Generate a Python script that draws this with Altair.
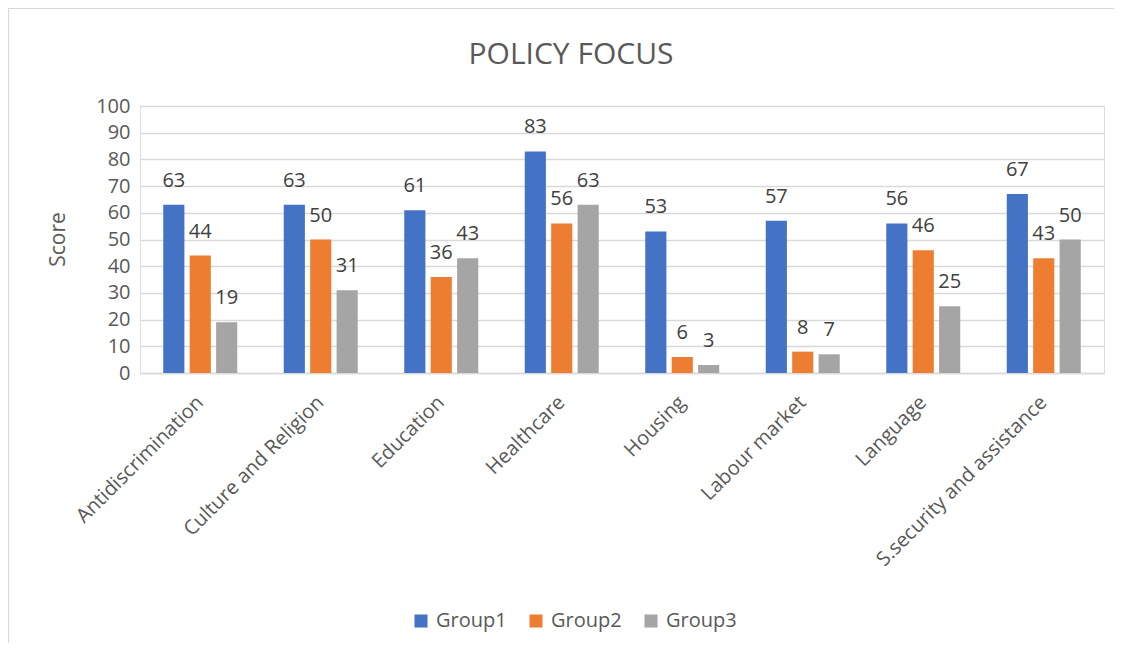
import altair as alt
import pandas as pd

categories = ["Antidiscrimination", "Culture and Religion", "Education", "Healthcare",
              "Housing", "Labour market", "Language", "S.security and assistance"]
groups = ["Group1", "Group2", "Group3"]
group1 = [63, 63, 61, 83, 53, 57, 56, 67]
group2 = [44, 50, 36, 56, 6, 8, 46, 43]
group3 = [19, 31, 43, 63, 3, 7, 25, 50]
colors = ["#4472C4", "#ED7D31", "#A5A5A5"]
y_ticks = list(range(0, 101, 10))

rows = []
for g, vals in zip(groups, [group1, group2, group3]):
    for c, v in zip(categories, vals):
        rows.append({"category": c, "group": g, "score": v})
df = pd.DataFrame(rows)

FONT = "Open Sans"
TXT = "#595959"

x_enc = alt.X("category:N", sort=categories,
              scale=alt.Scale(paddingInner=0.386, paddingOuter=0.193),
              axis=alt.Axis(title=None, labelAngle=315, labelFontSize=20, labelFont=FONT,
                            labelColor=TXT, ticks=False, domainColor="#D9D9D9",
                            domainWidth=1.5, labelPadding=26, labelAlign="right",
                            labelBaseline="middle", labelLimit=0, labelOverlap=False))
xo_enc = alt.XOffset("group:N", sort=groups, scale=alt.Scale(paddingInner=0.2, paddingOuter=0))
y_enc = alt.Y("score:Q", scale=alt.Scale(domain=[0, 100], nice=False),
              axis=alt.Axis(values=y_ticks, tickCount=11, title="Score", titleFontSize=21,
                            titleFont=FONT, titleColor=TXT, titleFontWeight="normal",
                            labelFontSize=20, labelFont=FONT, labelColor=TXT, ticks=False,
                            domain=False, gridColor="#D9D9D9", gridWidth=1.5, labelPadding=10,
                            labelOverlap=False, labelFlush=False,
                            titleX=-82, titleY=133, titleAngle=270, titleAlign="center",
                            titleBaseline="middle"))

bars = alt.Chart(df).mark_bar().encode(
    x=x_enc, xOffset=xo_enc, y=y_enc,
    color=alt.Color("group:N", sort=groups,
                    scale=alt.Scale(domain=groups, range=colors),
                    legend=alt.Legend(title=None, orient="none", direction="horizontal",
                                      legendX=271, legendY=505, symbolType="square",
                                      symbolSize=170, symbolStrokeWidth=0,
                                      labelFontSize=20, labelFont=FONT, labelColor=TXT,
                                      labelOffset=5, columnPadding=19, padding=0)),
)

labels = alt.Chart(df).mark_text(baseline="alphabetic", dy=-18, fontSize=20, font=FONT,
                                 color="#404040").encode(
    x=x_enc, xOffset=xo_enc, y=y_enc,
    text=alt.Text("score:Q", format="d"),
)

frame = alt.Chart(alt.Data(values=[{}])).mark_rect(
    fillOpacity=0, stroke="#D9D9D9", strokeWidth=1.2).encode(
    x=alt.value(-131.5), x2=alt.value(1010), y=alt.value(-97.5), y2=alt.value(580))

chart = alt.layer(frame, bars, labels).properties(
    width=964, height=267,
    title=alt.Title("POLICY FOCUS", fontSize=30, font=FONT, color=TXT, fontWeight="normal",
                    anchor="middle", frame="group", dx=-51, offset=0, dy=77.5,
                    baseline="middle"),
    autosize=alt.AutoSizeParams(type="none"),
    padding={"left": 132, "top": 98, "right": 10, "bottom": 270},
).configure_view(stroke=None).configure(background="white")

chart.save("out.html", embed_options={"renderer": "svg", "actions": False})
